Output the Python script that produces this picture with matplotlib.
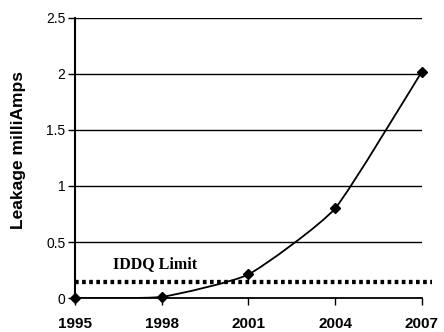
import matplotlib
matplotlib.use("Agg")
import matplotlib.pyplot as plt
import numpy as np
from matplotlib.path import Path
from matplotlib.patches import PathPatch

years = [1995, 1998, 2001, 2004, 2007]
leakage = [0.0, 0.01, 0.21, 0.80, 2.02]
iddq_limit = 0.14
yticks = [0, 0.5, 1, 1.5, 2, 2.5]
ytick_labels = ["0", "0.5", "1", "1.5", "2", "2.5"]

fig = plt.figure(figsize=(4.44, 3.32), dpi=100)
ax = fig.add_axes([0.169, 0.1024, 0.781, 0.8434])
ax.set_xlim(1995, 2007)
ax.set_ylim(0, 2.5)

# grid lines
for v in yticks[1:]:
    ax.axhline(v, color="black", lw=1.0, zorder=1)

# lightly smoothed curve (Catmull-Rom -> Bezier) through the data points
x = np.array(years, float)
y = np.array(leakage, float)
verts = [(x[0], y[0])]
codes = [Path.MOVETO]
n = len(x)
t = 0.08
for i in range(n - 1):
    p0 = (x[i - 1], y[i - 1]) if i > 0 else (x[i], y[i])
    p1 = (x[i], y[i])
    p2 = (x[i + 1], y[i + 1])
    p3 = (x[i + 2], y[i + 2]) if i + 2 < n else (x[i + 1], y[i + 1])
    c1 = (p1[0] + (p2[0] - p0[0]) * t, p1[1] + (p2[1] - p0[1]) * t)
    c2 = (p2[0] - (p3[0] - p1[0]) * t, p2[1] - (p3[1] - p1[1]) * t)
    verts += [c1, c2, p2]
    codes += [Path.CURVE4] * 3
ax.add_patch(PathPatch(Path(verts, codes), fill=False, ec="black", lw=1.3, zorder=3))
ax.plot(years, leakage, ls="none", marker="D", ms=5.5, color="black", zorder=4, clip_on=False)

# IDDQ limit
ax.plot([1995, 2007.35], [iddq_limit, iddq_limit], ls=(0, (0.85, 0.8)), lw=3.1,
        color="black", zorder=2, clip_on=False, dash_capstyle="butt")
ax.text(1997.77, 0.30, "IDDQ Limit", family="Liberation Serif", fontweight="bold",
        fontsize=11.5, ha="center", va="center")

for s in ["top", "right"]:
    ax.spines[s].set_visible(False)
ax.spines["left"].set_linewidth(1.5)
ax.spines["bottom"].set_linewidth(1.3)

ax.set_yticks(yticks)
ax.set_yticklabels(ytick_labels, family="Liberation Sans", fontsize=10)
ax.set_xticks(years)
ax.set_xticklabels([str(v) for v in years], family="Liberation Sans",
                   fontweight="bold", fontsize=11)
ax.tick_params(axis="y", length=5, width=1, pad=2)
ax.tick_params(axis="x", length=5, width=1, pad=9)
ax.set_ylabel("Leakage milliAmps", family="Liberation Sans", fontweight="bold",
              fontsize=12.5)
ax.yaxis.set_label_coords(-0.142, 0.529)

fig.savefig("out.png", dpi=100)
